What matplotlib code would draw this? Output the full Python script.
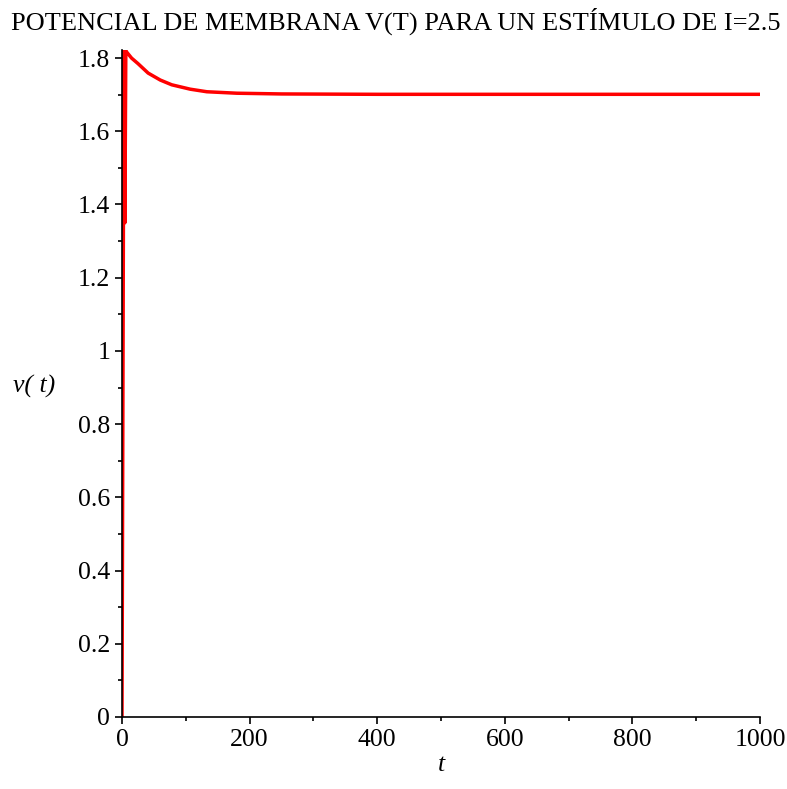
import matplotlib.pyplot as plt
from matplotlib.ticker import MultipleLocator

# membrane potential v(t)
t = [0, 3, 4.5, 6, 8, 15, 25, 41, 60, 78, 107, 133, 180, 250, 400, 600, 800, 1000]
v = [0, 1.82, 1.35, 1.82, 1.815, 1.80, 1.785, 1.759, 1.74, 1.727, 1.715, 1.708, 1.704, 1.702, 1.701, 1.701, 1.701, 1.701]

xticks = [0, 200, 400, 600, 800, 1000]
xtick_labels = ["0", "200", "400", "600", "800", "1000"]
yticks = [0, 0.2, 0.4, 0.6, 0.8, 1.0, 1.2, 1.4, 1.6, 1.8]
ytick_labels = ["0", "0.2", "0.4", "0.6", "0.8", "1", "1.2", "1.4", "1.6", "1.8"]

plt.rcParams['font.family'] = ['Liberation Serif', 'DejaVu Serif']

fig = plt.figure(figsize=(7.87, 7.89), dpi=100)
ax = fig.add_axes([0.155, 0.0913, 0.8107, 0.8453])
ax.plot(t, v, color="red", linewidth=2.5)

ax.set_xlim(0, 1000)
ax.set_ylim(0, 1.822)
ax.set_xticks(xticks)
ax.set_xticklabels(xtick_labels)
ax.set_yticks(yticks)
ax.set_yticklabels(ytick_labels)
ax.xaxis.set_minor_locator(MultipleLocator(100))
ax.yaxis.set_minor_locator(MultipleLocator(0.1))
ax.tick_params(which="major", length=5, width=1.2, labelsize=18.5, direction="out")
ax.tick_params(which="minor", length=3, width=1.2)
ax.spines["top"].set_visible(False)
ax.spines["right"].set_visible(False)
ax.spines["left"].set_linewidth(1.2)
ax.spines["bottom"].set_linewidth(1.2)

ax.set_xlabel("t", fontsize=18.5, style="italic", labelpad=2)
ax.set_ylabel("v( t)", fontsize=18.5, style="italic", rotation=0)
ax.yaxis.set_label_coords(-0.138, 0.478)
fig.suptitle("POTENCIAL DE MEMBRANA V(T) PARA UN ESTÍMULO DE I=2.5", fontsize=19, x=0.503, y=0.99)

fig.savefig("out.png", dpi=100)
